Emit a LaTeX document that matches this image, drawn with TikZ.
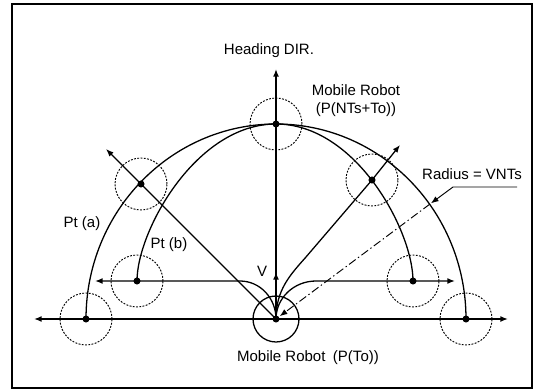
\documentclass[tikz,border=0pt]{standalone}
\usepackage{fontspec}
\setmainfont{Liberation Sans}
\usetikzlibrary{arrows.meta}

\begin{document}
\begin{tikzpicture}[x=0.03cm,y=0.03cm,line width=1.1pt,
    >={Latex[length=6.5pt,width=5pt]},
    dot/.style={circle,fill,inner sep=0pt,minimum size=6pt},
    zone/.style={dash pattern=on 1.6pt off 1.2pt,line width=0.8pt},
    lbl/.style={font=\fontsize{12.8}{15.5}\selectfont,inner sep=0pt}]
    \useasboundingbox (0,0) rectangle (538,390);
    \draw[line width=1.2pt] (12,2) rectangle (532,386);

    % Points
    \foreach \Name/\Point in {robot/{(276,71)}, la/{(86,71)}, ra/{(466,71)}, lb/{(137,109)}, rb/{(413,109)}, top/{(276,266)}, xl/{(141,206)}, xr/{(372,210)}}{
    \node[dot] (\Name) at \Point {};
    }
    \foreach \Name in {la,lb,xl,top,xr,rb,ra}{
    \draw[zone] (\Name.center) circle[radius=26];
    }
    \draw (robot.center) circle[radius=23];

    \coordinate (axl) at (34,71);
    \coordinate (axr) at (508,71);
    \coordinate (hd) at (276,321);
    \coordinate (vt) at (276,118);
    \coordinate (upl) at (95,109);
    \coordinate (upr) at (455,109);
    \coordinate (arl) at (106,241);
    \coordinate (arr) at (400,245);
    \coordinate (rad) at (430,186);
    \coordinate (ldr) at (517,203);

    % Axis
    \draw[->] (robot.center) -- (axl);
    \draw[->] (robot.center) -- (axr);
    \draw[->] (robot.center) -- (hd);
    \draw[->] (robot.center) -- (vt);

    % paths from the robot
    \draw[->] (robot.center) -- (xl.center) -- (arl);
    \draw[->] (robot.center) .. controls +(0,29) and (290,115) .. (306,133) -- (xr.center) -- (arr);
    \draw[->] (robot.center) arc[start angle=0,end angle=90,x radius=36,y radius=38] -- (upl);
    \draw[->] (robot.center) arc[start angle=180,end angle=90,x radius=40,y radius=38] -- (upr);

    % Pt (a) and Pt (b)
    \draw (la.center) arc[start angle=180,end angle=0,x radius=190,y radius=195];
    \draw (lb.center) .. controls +(0,50) and +(-80,0) .. (top.center) .. controls +(80,0) and +(0,50) .. (rb.center);

    % radius
    \draw[->,line width=0.8pt,dash pattern=on 7pt off 2.5pt on 1.2pt off 2.5pt,shorten >=4pt] (rad) -- (robot.center);
    \draw[->,line width=0.8pt,shorten >=1pt] (ldr) -- (453,203) -- (rad);

    \node[lbl] (head) at (269,339) {Heading DIR.};
    \node[lbl,align=center] (mrtop) at (356,289) {Mobile Robot\\(P(NTs+To))};
    \node[lbl] (radlbl) at (472,216) {Radius = VNTs};
    \node[lbl] (pta) at (82,166) {Pt (a)};
    \node[lbl] (ptb) at (169,145) {Pt (b)};
    \node[lbl] (vel) at (262,119) {V};
    \node[lbl] (mrbot) at (308,32) {Mobile Robot\enspace(P(To))};
\end{tikzpicture}
\end{document}
